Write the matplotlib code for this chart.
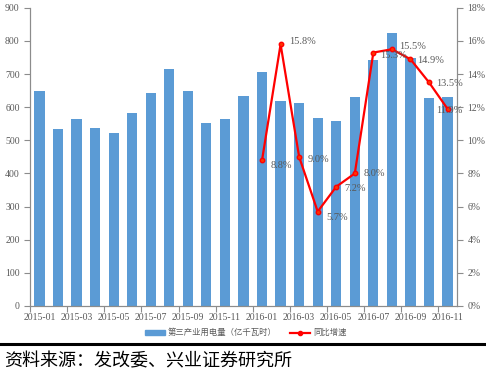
import numpy as np
import matplotlib
matplotlib.use("Agg")
import matplotlib.pyplot as plt
from matplotlib.lines import Line2D
from matplotlib.patches import Patch

months = ["2015-01", "2015-02", "2015-03", "2015-04", "2015-05", "2015-06",
          "2015-07", "2015-08", "2015-09", "2015-10", "2015-11", "2015-12",
          "2016-01", "2016-02", "2016-03", "2016-04", "2016-05", "2016-06",
          "2016-07", "2016-08", "2016-09", "2016-10", "2016-11"]
power = [648, 534, 564, 536, 521, 584, 643, 714, 649, 553, 565, 633,
         705, 619, 613, 567, 559, 632, 742, 825, 748, 628, 632]
# yoy growth only from 2016-01
growth = [8.8, 15.8, 9.0, 5.7, 7.2, 8.0, 15.3, 15.5, 14.9, 13.5, 11.9]
growth_start = 12

CJK = ["Noto Sans CJK SC", "DejaVu Sans"]
SERIF = "Liberation Serif"
GRAY = "#595959"
AXIS = "#8c8c8c"

fig = plt.figure(figsize=(4.86, 3.74), dpi=100)
ax = fig.add_axes([0.062, 0.182, 0.878, 0.797])
ax2 = ax.twinx()

x = np.arange(len(months))
ax.bar(x, power, width=0.55, color="#5b9bd5", zorder=2)
ax.set_xlim(-0.5, len(months) - 0.5)
ax.set_ylim(0, 900)
ax.set_yticks(range(0, 901, 100))

# ticks at category boundaries, labels under every other bar
ax.set_xticks(np.arange(-0.5, len(months), 2))
ax.set_xticklabels([])
ax.set_xticks(x[::2], minor=True)
ax.set_xticklabels(months[::2], minor=True)
ax.tick_params(axis="x", which="major", length=4, color=AXIS, direction="out")
ax.tick_params(axis="x", which="minor", length=0, pad=5)

gx = x[growth_start:]
ax2.plot(gx, growth, color="#ff0000", lw=1.6, marker="o", ms=3.2,
         mfc="#ff3300", mec="#ff0000", zorder=3)
ax2.set_ylim(0, 18)
ax2.set_yticks(range(0, 19, 2))
ax2.set_yticklabels([f"{v}%" for v in range(0, 19, 2)])

offsets = [(6, -4), (6, 2), (6, -2), (6, -4), (6, -1), (6, 0),
           (5, -2), (5, 2), (5, -1), (5, -1), (-8, -1)]
for xi, gi, off in zip(gx, growth, offsets):
    ax2.annotate(f"{gi:.1f}%", (xi, gi), xytext=off, textcoords="offset points",
                 ha="left", va="center", fontsize=7.5, color=GRAY,
                 family=SERIF, zorder=4)

for a in (ax, ax2):
    a.spines["top"].set_visible(False)
    for s in ("left", "right", "bottom"):
        a.spines[s].set_color(AXIS)
    a.tick_params(axis="y", length=4, color=AXIS, labelsize=7, labelcolor=GRAY)
    for lab in a.get_yticklabels():
        lab.set_family(SERIF)
ax.tick_params(axis="x", which="both", labelsize=7, labelcolor=GRAY)
for lab in ax.get_xticklabels(minor=True):
    lab.set_family(SERIF)

handles = [Patch(color="#5b9bd5"),
           Line2D([], [], color="#ff0000", lw=1.6, marker="o", ms=3)]
fig.legend(handles, ["第三产业用电量（亿千瓦时）", "同比增速"],
           loc="center", bbox_to_anchor=(0.506, 0.11), ncol=2, frameon=False,
           prop={"family": CJK, "size": 6}, labelcolor=GRAY,
           handlelength=2.4, handleheight=0.6, handletextpad=0.4,
           columnspacing=1.6)

fig.add_artist(Line2D([0, 1], [0.081, 0.081], color="black", lw=2.2,
                      transform=fig.transFigure))
fig.text(0.008, 0.035, "资料来源：发改委、兴业证券研究所", family=CJK, fontsize=13,
         color="black", va="center")

fig.savefig("out.png", dpi=100)
